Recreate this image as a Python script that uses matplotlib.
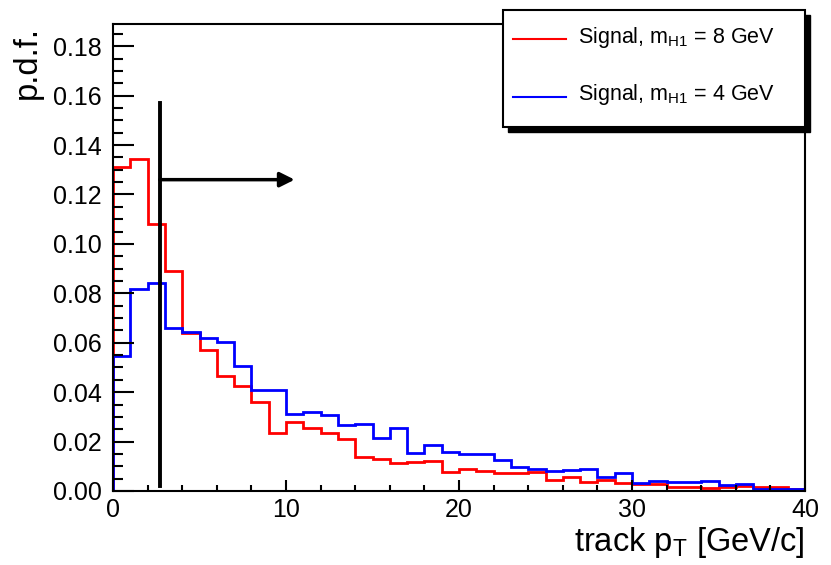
import numpy as np
import matplotlib
matplotlib.use('Agg')
import matplotlib.pyplot as plt
from matplotlib.patches import Rectangle
from matplotlib.lines import Line2D
from matplotlib.ticker import MultipleLocator, FormatStrFormatter

plt.rcParams['font.family'] = ['Liberation Sans', 'DejaVu Sans']
plt.rcParams['mathtext.default'] = 'regular'

# 1 GeV/c bins from 0 to 40
bin_edges = np.arange(0, 41, 1)

# normalised track pT distributions
pdf_m8 = [0.1310, 0.1343, 0.1080, 0.0889, 0.0638, 0.0571, 0.0467, 0.0426,
          0.0362, 0.0236, 0.0281, 0.0254, 0.0235, 0.0209, 0.0136, 0.0128,
          0.0112, 0.0119, 0.0123, 0.0078, 0.0088, 0.0082, 0.0074, 0.0074,
          0.0078, 0.0045, 0.0055, 0.0038, 0.0045, 0.0031, 0.0028, 0.0028,
          0.0017, 0.0017, 0.0011, 0.0017, 0.0020, 0.0017, 0.0017, 0.0008]
pdf_m4 = [0.0547, 0.0819, 0.0843, 0.0659, 0.0645, 0.0618, 0.0605, 0.0507,
          0.0409, 0.0409, 0.0310, 0.0321, 0.0309, 0.0269, 0.0271, 0.0213,
          0.0254, 0.0155, 0.0186, 0.0159, 0.0150, 0.0150, 0.0126, 0.0096,
          0.0088, 0.0082, 0.0085, 0.0088, 0.0058, 0.0074, 0.0034, 0.0042,
          0.0036, 0.0036, 0.0042, 0.0023, 0.0028, 0.0008, 0.0008, 0.0007]
labels = ['Signal, m$_{H1}$ = 8 GeV', 'Signal, m$_{H1}$ = 4 GeV']
colors = ['#ff0000', '#0000ff']

# selection cut and arrow
cut_pt = 2.7
cut_line_top = 0.157
arrow_y = 0.126
arrow_end = 10.5

fig = plt.figure(figsize=(8.31, 5.65), dpi=100)
ax = fig.add_axes([113 / 831, 1 - 491 / 565, 692 / 831, 467 / 565])

ax.stairs(pdf_m8, bin_edges, color=colors[0], lw=2, baseline=0)
ax.stairs(pdf_m4, bin_edges, color=colors[1], lw=2, baseline=0)

ax.plot([cut_pt, cut_pt], [0.002, cut_line_top], color='k', lw=2.8)
ax.annotate('', xy=(arrow_end, arrow_y), xytext=(cut_pt, arrow_y),
            arrowprops=dict(arrowstyle='-|>', color='k', lw=2.5,
                            mutation_scale=22, shrinkA=0, shrinkB=0))

ax.set_xlim(0, 40)
ax.set_ylim(0, 0.189)
ax.xaxis.set_major_locator(MultipleLocator(10))
ax.xaxis.set_minor_locator(MultipleLocator(2))
ax.yaxis.set_major_locator(MultipleLocator(0.02))
ax.yaxis.set_minor_locator(MultipleLocator(0.005))
ax.yaxis.set_major_formatter(FormatStrFormatter('%.2f'))
ax.tick_params(axis='both', which='both', direction='in', width=1.5,
               labelsize=18, colors='k')
ax.tick_params(axis='x', which='major', length=8, pad=5)
ax.tick_params(axis='x', which='minor', length=4)
ax.tick_params(axis='y', which='major', length=15, pad=8)
ax.tick_params(axis='y', which='minor', length=7.5)
for s in ax.spines.values():
    s.set_linewidth(1.5)

ax.set_ylabel('p.d.f.', fontsize=23.5, loc='top')
ax.yaxis.set_label_coords(-0.102, 0.995)
ax.set_xlabel('track p$_T$ [GeV/c]', fontsize=23.5, loc='right')
ax.xaxis.set_label_coords(1.0, -0.072)

# legend box with solid shadow
lx0, ly0, lw, lh = 503 / 831, 1 - 127 / 565, 302 / 831, 117 / 565
fig.add_artist(Rectangle((lx0 + 5 / 831, ly0 - 5 / 565), lw, lh,
                         transform=fig.transFigure, facecolor='k',
                         edgecolor='k', zorder=10))
fig.add_artist(Rectangle((lx0, ly0), lw, lh, transform=fig.transFigure,
                         facecolor='white', edgecolor='k', lw=1.5, zorder=11))
for i, (lab, c) in enumerate(zip(labels, colors)):
    yy = 1 - (39 + 58 * i) / 565
    fig.add_artist(Line2D([513 / 831, 566 / 831], [yy, yy], color=c, lw=1.5,
                          transform=fig.transFigure, zorder=12))
    fig.text(578 / 831, yy + 2 / 565, lab, fontsize=15.5, va='center',
             ha='left', zorder=12)

fig.savefig('out.png', dpi=100)
